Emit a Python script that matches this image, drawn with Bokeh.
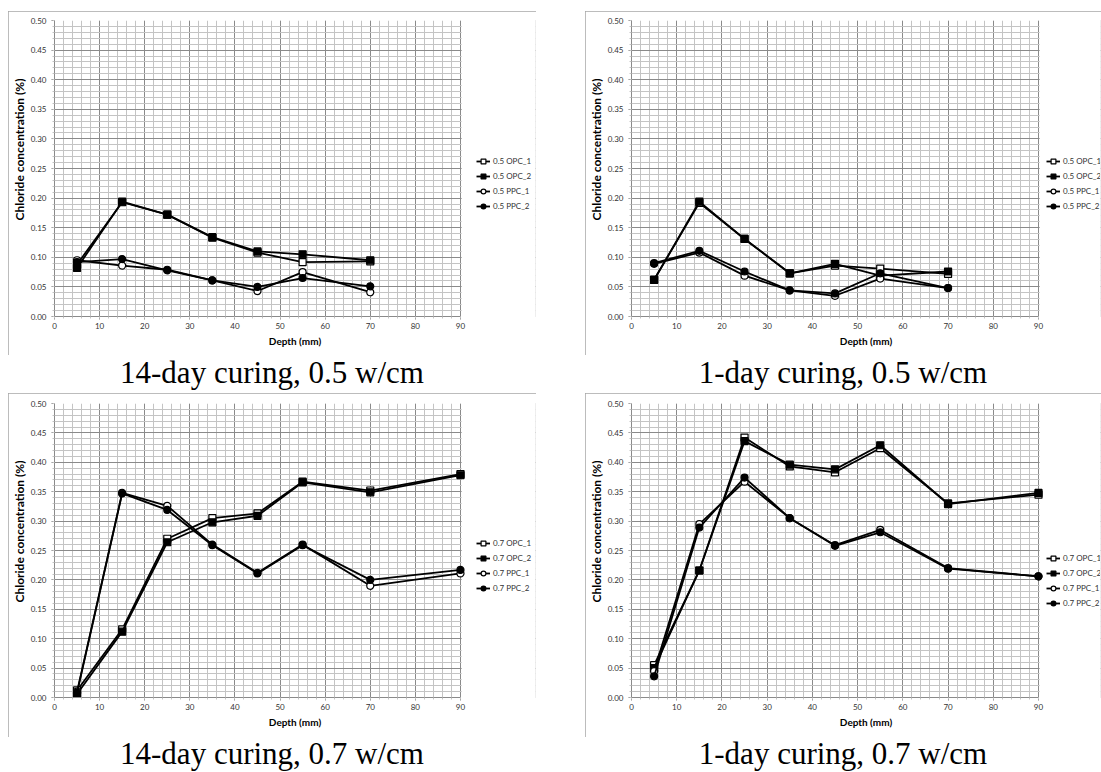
from bokeh.plotting import figure
from bokeh.models import (Range1d, FixedTicker, PrintfTickFormatter, Legend, LegendItem,
                          Div, Spacer, BoxAnnotation)
from bokeh.layouts import row, column
from bokeh.embed import file_html
from bokeh.resources import INLINE

# ---------------- data ----------------
depth_a = [5, 15, 25, 35, 45, 55, 70]
depth_b = [5, 15, 25, 35, 45, 55, 70, 90]

# 14-day curing, 0.5 w/cm
d14_05_opc1 = [0.088, 0.193, 0.172, 0.133, 0.108, 0.092, 0.093]
d14_05_opc2 = [0.082, 0.194, 0.172, 0.134, 0.110, 0.105, 0.095]
d14_05_ppc1 = [0.095, 0.086, 0.079, 0.061, 0.043, 0.075, 0.041]
d14_05_ppc2 = [0.092, 0.097, 0.078, 0.061, 0.050, 0.065, 0.051]

# 1-day curing, 0.5 w/cm
d1_05_opc1 = [0.062, 0.192, 0.131, 0.073, 0.086, 0.081, 0.072]
d1_05_opc2 = [0.062, 0.194, 0.131, 0.073, 0.089, 0.069, 0.076]
d1_05_ppc1 = [0.089, 0.108, 0.069, 0.044, 0.035, 0.064, 0.048]
d1_05_ppc2 = [0.090, 0.111, 0.076, 0.044, 0.039, 0.073, 0.048]

# 14-day curing, 0.7 w/cm
d14_07_opc1 = [0.012, 0.116, 0.270, 0.305, 0.313, 0.367, 0.352, 0.380]
d14_07_opc2 = [0.006, 0.112, 0.264, 0.298, 0.309, 0.366, 0.349, 0.378]
d14_07_ppc1 = [0.010, 0.348, 0.326, 0.260, 0.212, 0.260, 0.190, 0.211]
d14_07_ppc2 = [0.008, 0.347, 0.319, 0.259, 0.211, 0.259, 0.200, 0.217]

# 1-day curing, 0.7 w/cm
d1_07_opc1 = [0.055, 0.216, 0.442, 0.393, 0.383, 0.424, 0.330, 0.345]
d1_07_opc2 = [0.050, 0.216, 0.436, 0.396, 0.388, 0.429, 0.329, 0.348]
d1_07_ppc1 = [0.045, 0.295, 0.367, 0.305, 0.259, 0.285, 0.220, 0.206]
d1_07_ppc2 = [0.036, 0.289, 0.374, 0.305, 0.258, 0.281, 0.219, 0.206]

labels_05 = ["0.5 OPC_1", "0.5 OPC_2", "0.5 PPC_1", "0.5 PPC_2"]
labels_07 = ["0.7 OPC_1", "0.7 OPC_2", "0.7 PPC_1", "0.7 PPC_2"]

captions = ["14-day curing, 0.5 w/cm", "1-day curing, 0.5 w/cm",
            "14-day curing, 0.7 w/cm", "1-day curing, 0.7 w/cm"]

x_title = "Depth (mm)"
y_title = "Chloride concentration (%)"

x_ticks = list(range(0, 91, 10))
x_minor = list(range(0, 91, 2))
y_ticks = [round(0.05 * i, 2) for i in range(11)]
y_minor = [round(0.01 * i, 2) for i in range(51)]
X_MAX = 90

FONT = "Lato"
MAJOR = "#8a8a8a"
MINOR = "#c4c4c4"

# marker style per series: (marker, fill)
styles = [("square", "white"), ("square", "black"), ("circle", "white"), ("circle", "black")]


def panel(width, height, top, bottom, data_px, xs, series, labels, leg_xy):
    # frame spans to the right edge so the legend (drawn in the frame) is not clipped;
    # the part beyond x=90 is masked white.
    frame_w = width - 46 - 1
    x_end = X_MAX * frame_w / data_px
    p = figure(width=width, height=height, output_backend="svg", toolbar_location=None,
               x_range=Range1d(0, x_end), y_range=Range1d(0, 0.5),
               min_border_left=46, min_border_right=1,
               min_border_top=top, min_border_bottom=bottom,
               background_fill_color="white", border_fill_color="white")
    p.styles = {"outline": "1px solid #a6a6a6", "outline-offset": "-1px"}
    p.outline_line_color = None

    p.xaxis.ticker = FixedTicker(ticks=x_ticks, minor_ticks=x_minor)
    p.yaxis.ticker = FixedTicker(ticks=y_ticks, minor_ticks=y_minor)
    p.yaxis.formatter = PrintfTickFormatter(format="%.2f")
    p.xaxis.bounds = (0, X_MAX)
    for ax in (p.xaxis, p.yaxis):
        ax.axis_line_color = MAJOR
        ax.major_tick_line_color = MAJOR
        ax.minor_tick_line_color = MINOR
        ax.major_tick_out = 3
        ax.major_tick_in = 0
        ax.minor_tick_out = 2
        ax.minor_tick_in = 0
        ax.major_label_text_font = FONT
        ax.major_label_text_font_size = "8px"
        ax.major_label_text_color = "#333333"
        ax.axis_label_text_font = FONT
        ax.axis_label_text_font_style = "bold"
        ax.axis_label_text_color = "black"
    p.xaxis.axis_label_text_font_size = "10px"
    p.yaxis.axis_label_text_font_size = "12px"
    p.xaxis.axis_label = x_title
    # leading no-break spaces nudge the (rotated) title upward, as in the original
    p.yaxis.axis_label = "\u00a0" * 13 + y_title
    p.xaxis.major_label_standoff = 3
    p.yaxis.major_label_standoff = 5
    p.xaxis.axis_label_standoff = 3
    p.yaxis.axis_label_standoff = 1

    for g in (p.xgrid, p.ygrid):
        g.grid_line_color = MAJOR
        g.grid_line_width = 1
        g.minor_grid_line_color = MINOR
        g.minor_grid_line_width = 1

    # mask beyond the plot area
    p.add_layout(BoxAnnotation(left=X_MAX + 0.25, fill_color="white", fill_alpha=1,
                               line_color=None, level="underlay"))

    items = []
    for ys, lab, (mk, fill) in zip(series, labels, styles):
        ln = p.line(xs, ys, line_color="black", line_width=1.8)
        sc = p.scatter(xs, ys, marker=mk, size=7, fill_color=fill, line_color="black",
                       line_width=1.2)
        items.append(LegendItem(label=lab, renderers=[ln, sc]))

    leg = Legend(items=items, location=leg_xy, orientation="vertical",
                 glyph_width=14, glyph_height=12, label_height=12, label_width=30,
                 spacing=3, padding=0, margin=0, label_standoff=3,
                 border_line_color=None, background_fill_alpha=0,
                 label_text_font=FONT, label_text_font_size="8px",
                 label_text_color="#333333")
    p.add_layout(leg)
    return p


p1 = panel(528, 344, 9, 39, 406, depth_a,
           [d14_05_opc1, d14_05_opc2, d14_05_ppc1, d14_05_ppc2], labels_05, (422, 104))
p2 = panel(516, 344, 9, 39, 407, depth_a,
           [d1_05_opc1, d1_05_opc2, d1_05_ppc1, d1_05_ppc2], labels_05, (415, 104))
p3 = panel(528, 344, 10, 40, 406, depth_b,
           [d14_07_opc1, d14_07_opc2, d14_07_ppc1, d14_07_ppc2], labels_07, (422, 103))
p4 = panel(516, 344, 10, 40, 407, depth_b,
           [d1_07_opc1, d1_07_opc2, d1_07_ppc1, d1_07_ppc2], labels_07, (415, 88))


def caption(text, width, height, lh):
    html = ('<div style="font-family:\'Liberation Serif\',\'Times New Roman\',serif;'
            'font-size:31px;line-height:%dpx;height:%dpx;overflow:hidden;text-align:center;'
            'white-space:nowrap;color:black;width:%dpx">%s</div>'
            % (lh, height, width, text))
    return Div(text=html, width=width, height=height, margin=0)


def sp(w, h):
    return Spacer(width=w, height=h, margin=0)


layout = column(
    sp(1101, 11),
    row(sp(8, 344), p1, sp(49, 344), p2),
    row(sp(8, 38), caption(captions[0], 528, 38, 35), sp(49, 38),
        caption(captions[1], 516, 38, 35)),
    row(sp(8, 344), p3, sp(49, 344), p4),
    row(sp(8, 35), caption(captions[2], 528, 35, 33), sp(49, 35),
        caption(captions[3], 516, 35, 33)),
)

open("out.html", "w").write(file_html(layout, INLINE))
